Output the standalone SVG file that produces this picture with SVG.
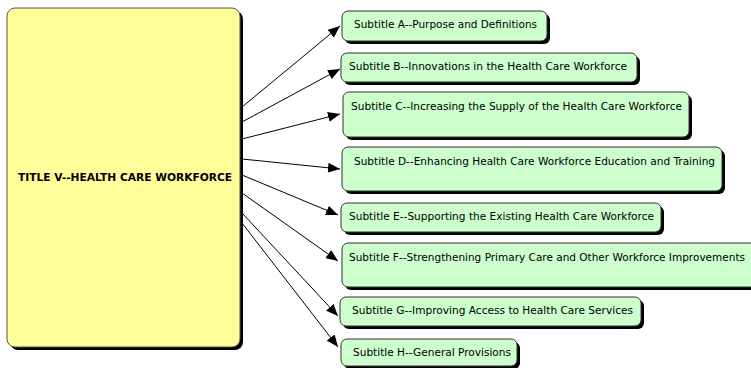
<svg xmlns="http://www.w3.org/2000/svg" width="751" height="368" viewBox="0 0 751 368">
  <style>
    .shadow { fill: #000000; }
    .main { fill: #FFFF99; stroke: #555555; stroke-width: 1; }
    .sub { fill: #CCFFCC; stroke: #333333; stroke-width: 1; }
    .title { font-family: "DejaVu Sans", "Liberation Sans", sans-serif; font-size: 11px; font-weight: bold; fill: #000000; }
    .label { font-family: "DejaVu Sans", "Liberation Sans", sans-serif; font-size: 11px; fill: #000000; }
    .conn { stroke: #000000; stroke-width: 1; fill: none; marker-end: url(#arrow); }
  </style>
  <defs>
    <marker id="arrow" markerWidth="12" markerHeight="10" refX="12" refY="5" orient="auto" markerUnits="userSpaceOnUse">
      <path d="M0,0 L12,5 L0,10 Z" fill="#000000"/>
    </marker>
  </defs>
  <rect width="751" height="368" fill="#FFFFFF"/>

  <g id="title-v">
    <rect class="shadow" x="10" y="11" width="233" height="339" rx="8"/>
    <rect class="main" x="7" y="8" width="233" height="339" rx="8"/>
    <text class="title" x="18" y="181" textLength="214" lengthAdjust="spacingAndGlyphs">TITLE V--HEALTH CARE WORKFORCE</text>
  </g>

  <g id="connectors">
    <line class="conn" x1="242" y1="107" x2="340" y2="26"/>
    <line class="conn" x1="242" y1="122" x2="340" y2="69"/>
    <line class="conn" x1="242" y1="139" x2="340" y2="114"/>
    <line class="conn" x1="242" y1="159" x2="340" y2="169"/>
    <line class="conn" x1="242" y1="175" x2="338" y2="215"/>
    <line class="conn" x1="242" y1="193" x2="338" y2="261"/>
    <line class="conn" x1="242" y1="213" x2="338" y2="316"/>
    <line class="conn" x1="242" y1="223" x2="338" y2="347"/>
  </g>

  <g id="subtitle-a">
    <rect class="shadow" x="345" y="14" width="205" height="30" rx="6"/>
    <rect class="sub" x="342" y="11" width="205" height="30" rx="6"/>
    <text class="label" x="354" y="28" textLength="183" lengthAdjust="spacingAndGlyphs">Subtitle A--Purpose and Definitions</text>
  </g>
  <g id="subtitle-b">
    <rect class="shadow" x="344" y="56" width="296" height="29" rx="6"/>
    <rect class="sub" x="341" y="53" width="296" height="29" rx="6"/>
    <text class="label" x="349" y="70" textLength="278" lengthAdjust="spacingAndGlyphs">Subtitle B--Innovations in the Health Care Workforce</text>
  </g>
  <g id="subtitle-c">
    <rect class="shadow" x="346" y="95" width="346" height="45" rx="6"/>
    <rect class="sub" x="343" y="92" width="346" height="45" rx="6"/>
    <text class="label" x="351" y="110" textLength="331" lengthAdjust="spacingAndGlyphs">Subtitle C--Increasing the Supply of the Health Care Workforce</text>
  </g>
  <g id="subtitle-d">
    <rect class="shadow" x="345" y="150" width="380" height="44" rx="6"/>
    <rect class="sub" x="342" y="147" width="380" height="44" rx="6"/>
    <text class="label" x="354" y="165" textLength="361" lengthAdjust="spacingAndGlyphs">Subtitle D--Enhancing Health Care Workforce Education and Training</text>
  </g>
  <g id="subtitle-e">
    <rect class="shadow" x="344" y="206" width="320" height="29" rx="6"/>
    <rect class="sub" x="341" y="203" width="320" height="29" rx="6"/>
    <text class="label" x="349" y="220" textLength="305" lengthAdjust="spacingAndGlyphs">Subtitle E--Supporting the Existing Health Care Workforce</text>
  </g>
  <g id="subtitle-f">
    <rect class="shadow" x="345" y="246" width="420" height="44" rx="6"/>
    <rect class="sub" x="342" y="243" width="420" height="44" rx="6"/>
    <text class="label" x="349" y="261" textLength="396" lengthAdjust="spacingAndGlyphs">Subtitle F--Strengthening Primary Care and Other Workforce Improvements</text>
  </g>
  <g id="subtitle-g">
    <rect class="shadow" x="343" y="300" width="301" height="29" rx="6"/>
    <rect class="sub" x="340" y="297" width="301" height="29" rx="6"/>
    <text class="label" x="352" y="314" textLength="281" lengthAdjust="spacingAndGlyphs">Subtitle G--Improving Access to Health Care Services</text>
  </g>
  <g id="subtitle-h">
    <rect class="shadow" x="344" y="342" width="176" height="27" rx="6"/>
    <rect class="sub" x="341" y="339" width="176" height="27" rx="6"/>
    <text class="label" x="353" y="356" textLength="158" lengthAdjust="spacingAndGlyphs">Subtitle H--General Provisions</text>
  </g>
</svg>
